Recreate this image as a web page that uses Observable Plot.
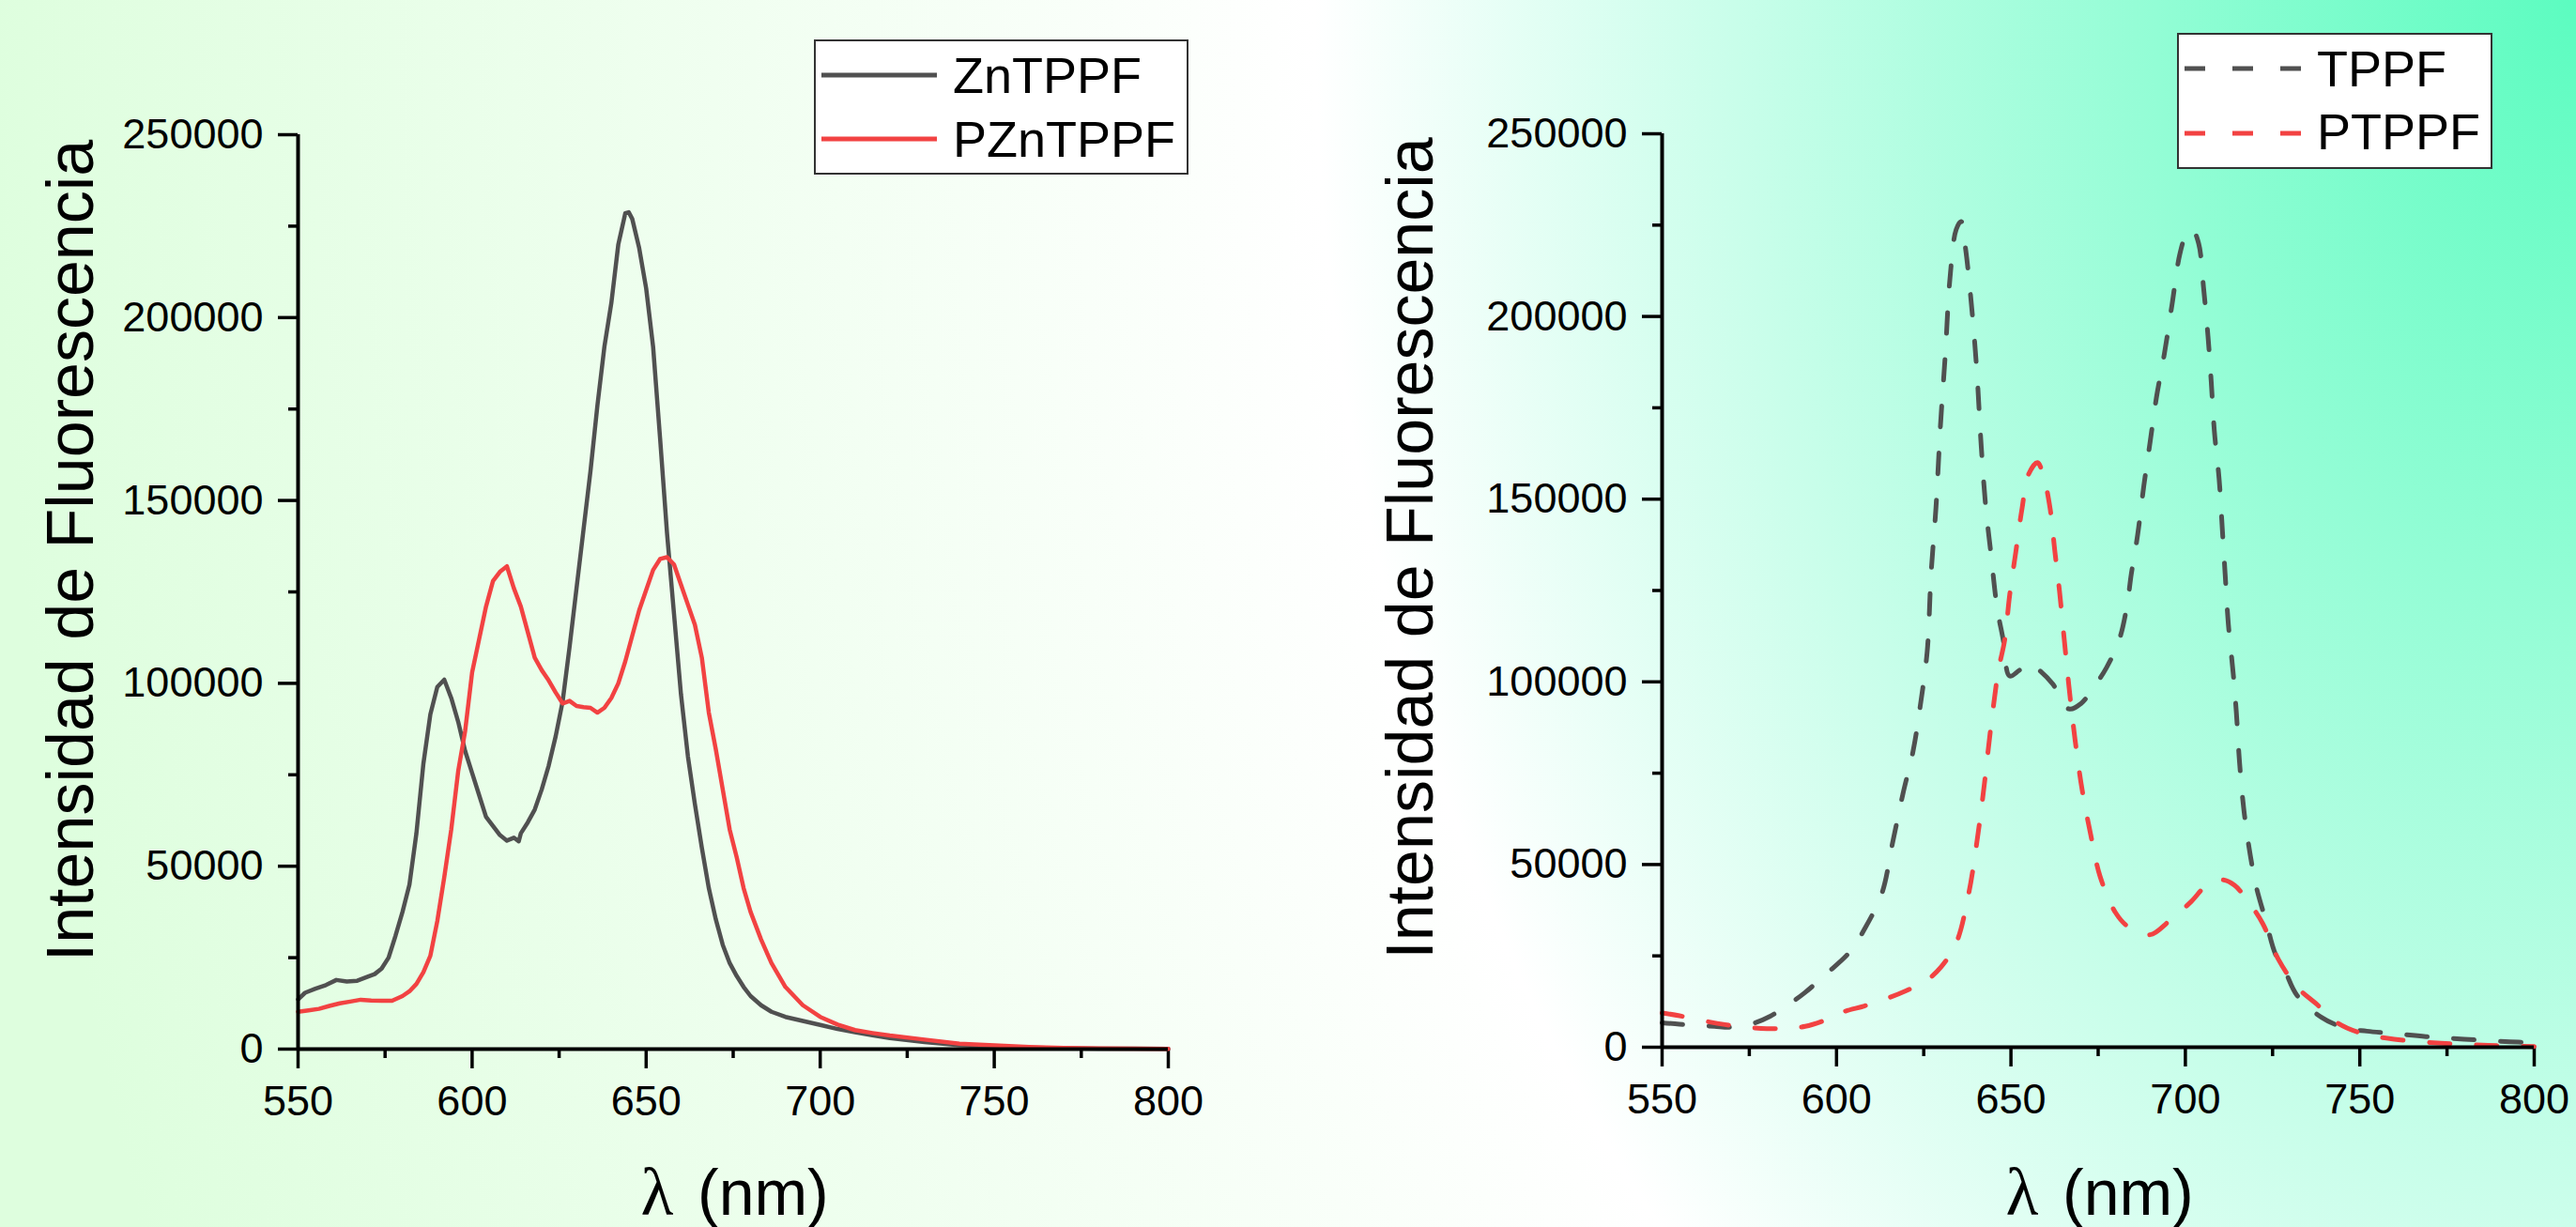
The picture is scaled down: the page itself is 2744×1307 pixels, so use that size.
<!DOCTYPE html>
<html>
<head>
<meta charset="utf-8">
<script src="https://cdn.jsdelivr.net/npm/d3@7"></script>
<script src="https://cdn.jsdelivr.net/npm/@observablehq/plot@0.6"></script>
<style>
  html, body { margin: 0; padding: 0; }
  body {
    width: 2744px; height: 1307px; overflow: hidden; position: relative;
    font-family: "Liberation Sans", Arial, sans-serif;
    background: radial-gradient(ellipse 1344px 1900px at 100% 0%, #5cfcc0 0%, #ffffff 100%, #defede 205%);
  }
  .panel { position: absolute; top: 0; width: 1372px; height: 1307px; }
  .legend { position: absolute; }
</style>
</head>
<body>
<div id="left" class="panel" style="left:0px"></div>
<div id="right" class="panel" style="left:1372px"></div>
<script>
// ---------------- data ----------------
const xMajor = [550, 600, 650, 700, 750, 800];
const xMinor = [575, 625, 675, 725, 775];
const yMajor = [0, 50000, 100000, 150000, 200000, 250000];
const yMinor = [25000, 75000, 125000, 175000, 225000];

const yTitle = "Intensidad de Fluorescencia";
const xTitleSymbol = "λ";
const xTitleUnit = "(nm)";

const namesLeft = ["ZnTPPF", "PZnTPPF"];
const namesRight = ["TPPF", "PTPPF"];
const colorGray = "#505050";
const colorRed = "#f24242";

// ZnTPPF (left, gray solid)
const wlZnTPPF = [550,552,555,558,561,564,567,570,572,574,576,578,580,582,584,586,588,590,592,594,596,598,600,602,604,606,608,610,612,613.4,614,616,618,620,622,624,626,628,630,632,634,636,638,640,642,644,645,646,648,650,652,654,656,658,660,662,664,666,668,670,672,674,676,678,680,683,686,690,695,700,705,710,715,720,730,740,750,760,770,780,790,800];
const valZnTPPF = [13600,15400,16500,17500,18900,18500,18700,19800,20500,22000,25000,31000,37500,45000,59000,78000,91500,99000,101000,96000,89500,81500,75500,69500,63500,61000,58500,57000,57800,56800,59000,62000,65500,71000,77500,85500,95000,110000,126000,142000,158000,176000,192000,204000,220000,228500,228800,227000,219000,208000,192000,167000,141000,119000,97000,80000,67000,55000,44000,35500,28500,23500,20000,17000,14500,12000,10200,8800,7700,6600,5500,4600,3800,3000,1900,1100,700,400,250,150,100,50];

// PZnTPPF (left, red solid)
const wlPZnTPPF = [550,553,556,559,562,565,568,571,574,577,580,582,584,586,588,590,592,594,596,598,600,602,604,606,608,610,612,614,616,618,620,622,624,626,628,630,632,634,636,638,640,642,644,646,648,650,652,654,656,658,660,662,664,666,668,670,672,674,676,678,680,683,686,690,695,700,705,710,715,720,730,740,750,760,770,780,790,800];
const valPZnTPPF = [10200,10600,11000,11800,12500,13000,13500,13300,13200,13200,14500,15800,17800,21000,25500,35000,47000,60000,76000,87000,103000,112000,121000,128000,130500,132000,126000,121000,114000,107000,103600,100800,97500,94500,95200,93800,93500,93300,92000,93300,96000,100000,106000,113000,120000,125500,131000,134000,134500,132500,127000,121500,116000,107000,92000,82000,71000,60000,52500,44000,37500,30000,23500,17000,12000,8800,6700,5200,4400,3700,2600,1500,1000,600,350,200,120,80];

// TPPF (right, gray dashed)
const wlTPPF = [550,555,560,565,570,576,581,586,591,597,604,608,613,616,619,622,624,626,627.1,628.5,629.8,631.2,632.5,634.3,635.7,637,638.8,640.2,641.5,642.8,644.2,646,647.8,649.6,652.3,655,657.6,662,666.6,670,673.8,677.4,681,683.2,684.5,686.3,688.1,689.9,691.7,694,696.2,698.4,700.2,702,703.8,705.2,706.5,707.4,708.3,709.7,710.6,711.4,712.3,713.7,714.6,715.5,716.8,718.6,720.4,723.1,725.8,728.5,732,739,746,752,760,769,780,793,800];
const valTPPF = [6700,6300,6000,5700,5500,6500,8500,11500,15000,20000,26300,32300,42100,55600,69200,81300,93400,108400,129500,147600,170300,189900,210200,223800,226000,218500,201900,185300,164200,147600,135600,120500,111400,101600,103100,105100,103600,99400,92600,94000,98600,103900,111400,120500,129500,140100,153700,165700,177800,189900,203400,217000,222300,223800,220000,208000,194400,182300,168700,155200,141600,129500,116000,102400,91800,78300,64700,52600,43600,34500,25500,21000,14200,8200,5200,4400,3700,2900,2200,1500,1200];

// PTPPF (right, red dashed)
const wlPTPPF = [550,555,562,568,574,580,586,591,597,602,608,614.6,620,625.4,630,634.3,637.9,640.6,642.4,644.2,646.4,648.2,649.6,651.4,653.2,655,657.6,659.4,661.2,662.6,663.9,665.3,666.6,668.4,670.4,672.9,675.6,680,683.6,689.9,695.3,701.6,706.1,710.6,714.1,718.6,722.2,726.7,732.1,737.5,743.7,750.9,759.9,773.3,786.8,800];
const valPTPPF = [9400,8600,7200,6200,5500,5100,5200,5700,7500,9700,11300,13400,15500,18000,22000,28500,42100,58700,72200,87300,103100,111400,123500,135600,147600,156700,160000,156000,147600,135600,125000,111400,99000,84000,70500,58000,46600,36800,33000,30800,34500,39800,44300,45800,44300,39100,33800,24000,16400,11900,6600,3700,2200,1100,500,200];

// ---------------- helpers ----------------
const rows = (wl, vals) => wl.map((w, i) => ({wl: w, v: vals[i]}));
const fmt = d => String(d);
const FONT = "'Liberation Sans', Arial, sans-serif";

function panel({margins, series, dashed, titleDx, titleDy, xTitleDy}) {
  const [mt, mr, mb, ml] = margins;
  const lineOpts = dashed
    ? {strokeWidth: 5, strokeDasharray: "22,28", curve: "catmull-rom"}
    : {strokeWidth: 4.5, curve: "linear"};
  return Plot.plot({
    width: 1372, height: 1307,
    marginTop: mt, marginRight: mr, marginBottom: mb, marginLeft: ml,
    x: {domain: [550, 800]},
    y: {domain: [0, 250000]},
    style: {background: "transparent", fontFamily: FONT, color: "black", overflow: "visible"},
    marks: [
      Plot.axisX({ticks: xMajor, tickSize: 21, tickPadding: 18, fontSize: 45, tickFormat: fmt, strokeWidth: 3.5, label: null}),
      Plot.axisX({ticks: xMinor, tickSize: 10, tickFormat: () => "", strokeWidth: 3.5, label: null}),
      Plot.axisY({ticks: yMajor, tickSize: 21, tickPadding: 16, fontSize: 45, tickFormat: fmt, strokeWidth: 3.5, label: null}),
      Plot.axisY({ticks: yMinor, tickSize: 10, tickFormat: () => "", strokeWidth: 3.5, label: null}),
      ...series.map(s => Plot.line(rows(s.wl, s.vals), {x: "wl", y: "v", stroke: s.color, ...lineOpts})),
      Plot.ruleX([550], {stroke: "black", strokeWidth: 4}),
      Plot.ruleY([0], {stroke: "black", strokeWidth: 4}),
      Plot.text([yTitle], {text: d => d, frameAnchor: "left", rotate: -90, textAnchor: "middle", lineAnchor: "bottom",
        dx: titleDx, dy: titleDy, fontSize: 70, fill: "black"}),
      Plot.text([xTitleSymbol], {text: d => d, frameAnchor: "bottom", textAnchor: "middle", lineAnchor: "bottom",
        dx: -81, dy: xTitleDy, fontSize: 72, fontFamily: "'Liberation Serif', serif", fill: "black"}),
      Plot.text([xTitleUnit], {text: d => d, frameAnchor: "bottom", textAnchor: "start", lineAnchor: "bottom",
        dx: -38, dy: xTitleDy, fontSize: 68, fill: "black"})
    ]
  });
}

function legend({left, top, width, height, items, dashed, swX0, swX1, rowY, textX, baseY}) {
  const svg = d3.create("svg")
    .attr("class", "legend")
    .attr("width", width).attr("height", height)
    .style("left", left + "px").style("top", top + "px");
  svg.append("rect").attr("x", 1).attr("y", 1).attr("width", width - 2).attr("height", height - 2)
    .attr("fill", "#ffffff").attr("stroke", "#333333").attr("stroke-width", 2);
  items.forEach((it, i) => {
    svg.append("line").attr("x1", swX0).attr("x2", swX1).attr("y1", rowY[i]).attr("y2", rowY[i])
      .attr("stroke", it.color).attr("stroke-width", 5)
      .attr("stroke-dasharray", dashed ? "22,29" : null);
    svg.append("text").attr("x", textX).attr("y", baseY[i])
      .attr("font-family", FONT).attr("font-size", 54).attr("fill", "black").text(it.name);
  });
  return svg.node();
}

// ---------------- left panel ----------------
const leftEl = document.getElementById("left");
leftEl.appendChild(panel({
  margins: [143, 128, 190, 317],
  series: [
    {wl: wlZnTPPF, vals: valZnTPPF, color: colorGray},
    {wl: wlPZnTPPF, vals: valPZnTPPF, color: colorRed}
  ],
  dashed: false, titleDx: -219, titleDy: -44, xTitleDy: 176
}));
leftEl.appendChild(legend({
  left: 867, top: 42, width: 399, height: 144,
  items: [{name: namesLeft[0], color: colorGray}, {name: namesLeft[1], color: colorRed}],
  dashed: false, swX0: 8, swX1: 131, rowY: [38, 106], textX: 148, baseY: [57, 125]
}));

// ---------------- right panel ----------------
const rightEl = document.getElementById("right");
rightEl.appendChild(panel({
  margins: [142, 45, 192, 398],
  series: [
    {wl: wlTPPF, vals: valTPPF, color: colorGray},
    {wl: wlPTPPF, vals: valPTPPF, color: colorRed}
  ],
  dashed: true, titleDx: -245, titleDy: -45, xTitleDy: 178
}));
rightEl.appendChild(legend({
  left: 2319 - 1372, top: 35, width: 336, height: 145,
  items: [{name: namesRight[0], color: colorGray}, {name: namesRight[1], color: colorRed}],
  dashed: true, swX0: 8, swX1: 133, rowY: [38, 107], textX: 149, baseY: [57, 124]
}));
</script>
</body>
</html>
